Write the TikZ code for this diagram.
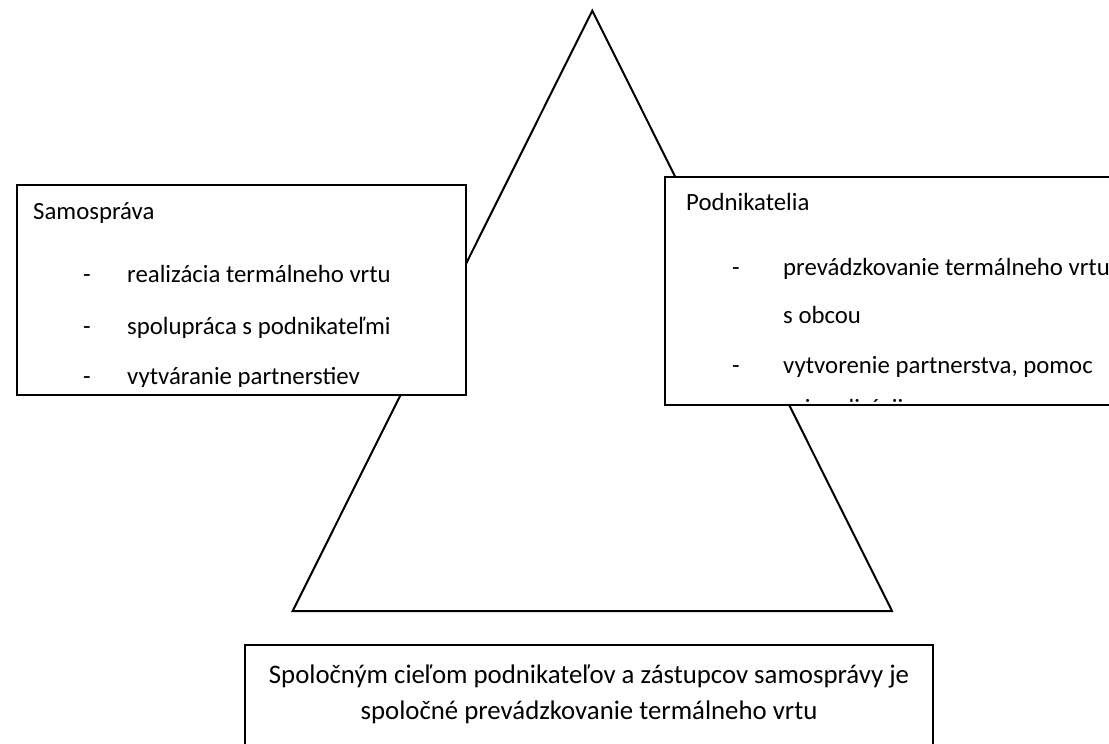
\documentclass[tikz,border=0pt]{standalone}
\usepackage{fontspec}
\setmainfont{Carlito}
\begin{document}
\begin{tikzpicture}[x=1pt,y=-1pt,
  outline/.style={draw=black, line width=2pt, line join=miter},
  boxshape/.style={outline, fill=white, rectangle, inner sep=0pt},
  bodytxt/.style={inner sep=0pt, anchor=base west, font=\fontsize{24.8}{30}\selectfont},
  goaltxt/.style={inner sep=0pt, anchor=base, font=\fontsize{26.8}{32}\selectfont}]
\useasboundingbox (0,0) rectangle (1109,744);
\fill[white] (0,0) rectangle (1109,744);
\clip (0,0) rectangle (1109,744);
% triangle
\coordinate (apex) at (592.3,10.7);
\coordinate (bl) at (292.7,611);
\coordinate (br) at (892,611);
\draw[outline] (apex) -- (bl) -- (br) -- cycle;
% left box
\node[boxshape, minimum width=449pt, minimum height=210pt] (samo) at (241.5,290) {};
\begin{scope}
\clip (20,188) rectangle (463,386);
\node[bodytxt] (s0) at (33,219) {Samospráva};
\node[bodytxt] (s1d) at (83,282) {-};
\node[bodytxt] (s1) at (127,282) {realizácia termálneho vrtu};
\node[bodytxt] (s2d) at (83,334) {-};
\node[bodytxt] (s2) at (127,334) {spolupráca s podnikateľmi};
\node[bodytxt] (s3d) at (83,384) {-};
\node[bodytxt] (s3) at (127,384) {vytváranie partnerstiev};
\end{scope}
% right box
\node[boxshape, minimum width=460pt, minimum height=228pt] (podn) at (895,291) {};
\begin{scope}
\clip (668,180) rectangle (1109,401);
\node[bodytxt] (p0) at (686,210) {Podnikatelia};
\node[bodytxt] (p1d) at (732,275) {-};
\node[bodytxt] (p1) at (783,275) {prevádzkovanie termálneho vrtu};
\node[bodytxt] (p1b) at (783,323) {s obcou};
\node[bodytxt] (p2d) at (732,373) {-};
\node[bodytxt] (p2) at (783,373) {vytvorenie partnerstva, pomoc};
\node[bodytxt] (p2b) at (783,416) {pri realizácii};
\end{scope}
% bottom box
\node[boxshape, minimum width=688pt, minimum height=130pt] (ciel) at (589,710) {};
\node[goaltxt] (c1) at (589,683) {Spoločným cieľom podnikateľov a zástupcov samosprávy je};
\node[goaltxt] (c2) at (589,719) {spoločné prevádzkovanie termálneho vrtu};
\end{tikzpicture}
\end{document}
